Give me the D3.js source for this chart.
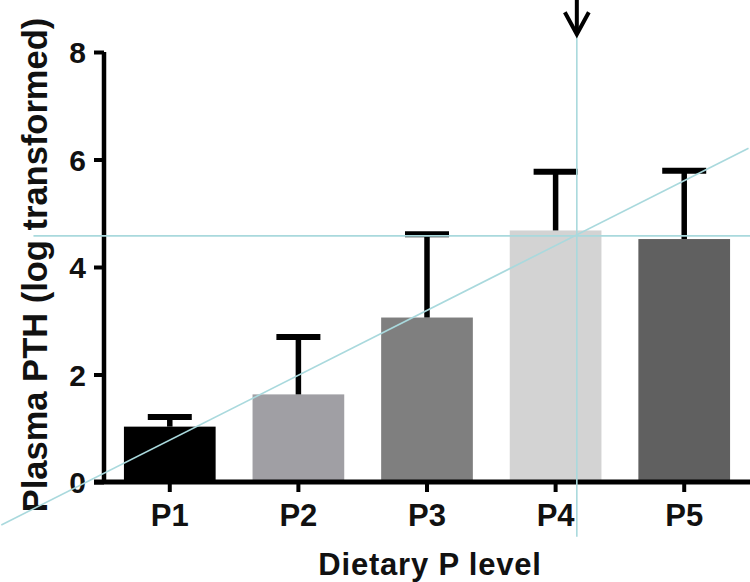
<!DOCTYPE html>
<html>
<head>
<meta charset="utf-8">
<script src="https://cdn.jsdelivr.net/npm/d3@7"></script>
<style>
  body { margin: 0; background: #fff; }
  text { font-family: "Liberation Sans", Arial, sans-serif; font-weight: bold; fill: #111; }
</style>
</head>
<body>
<div class="chart"></div>
<script>
// data
const levels = ["P1", "P2", "P3", "P4", "P5"];
const means  = [1.03, 1.63, 3.06, 4.68, 4.52];
const upper  = [1.21, 2.70, 4.61, 5.77, 5.79];
const barColors = ["#000000", "#a09fa4", "#7f7f7f", "#d3d3d3", "#606060"];
const yTicks = [0, 2, 4, 6, 8];

// overlay guides (x in category-index units, y in data units)
const guideX = 3.165;
const guideY = 4.58;
const diagonal = [[-1.31, -0.8], [4.5, 6.21]];
const arrowY = [9.0, 8.33];

const W = 750, H = 582;
const margin = { top: 52, right: 0, bottom: 100, left: 104 };

const svg = d3.select(".chart").append("svg")
    .attr("width", W)
    .attr("height", H);

const y = d3.scaleLinear()
    .domain([0, 8])
    .range([H - margin.bottom, margin.top]);

const x = d3.scaleBand()
    .domain(levels)
    .range([margin.left, W - margin.right])
    .paddingInner(0.287)
    .paddingOuter(0.155);

const cx = d => x(d) + x.bandwidth() / 2;
// continuous index scale for the guide lines
const xi = d3.scaleLinear().domain([0, levels.length - 1]).range([cx(levels[0]), cx(levels[levels.length - 1])]);

// bars
svg.append("g").selectAll("rect")
    .data(levels)
    .enter()
    .append("rect")
    .attr("x", d => x(d))
    .attr("y", (d, i) => y(means[i]))
    .attr("width", x.bandwidth())
    .attr("height", (d, i) => y(0) - y(means[i]))
    .attr("fill", (d, i) => barColors[i]);

// error bars (upper only)
const err = svg.append("g").attr("stroke", "#000");
err.selectAll("line.stem")
    .data(levels)
    .enter()
    .append("line")
    .attr("class", "stem")
    .attr("x1", d => cx(d)).attr("x2", d => cx(d))
    .attr("y1", (d, i) => y(means[i]))
    .attr("y2", (d, i) => y(upper[i]))
    .attr("stroke-width", 5.5);
err.selectAll("line.cap")
    .data(levels)
    .enter()
    .append("line")
    .attr("class", "cap")
    .attr("x1", d => cx(d) - 22).attr("x2", d => cx(d) + 22)
    .attr("y1", (d, i) => y(upper[i]))
    .attr("y2", (d, i) => y(upper[i]))
    .attr("stroke-width", 6);

// y axis
const yAxis = d3.axisLeft(y).tickValues(yTicks).tickSize(10).tickPadding(8).tickFormat(d3.format("d"));
const gy = svg.append("g")
    .attr("transform", `translate(${margin.left},0)`)
    .call(yAxis);
gy.select(".domain").attr("d", `M0,${y(8)}V${y(0)}`).attr("stroke", "#000").attr("stroke-width", 4.5);
gy.selectAll(".tick line").attr("stroke", "#000").attr("stroke-width", 4);
gy.selectAll(".tick text").attr("font-size", 30).attr("dy", "0.36em")
    .attr("font-family", "Liberation Sans, Arial, sans-serif").attr("font-weight", "bold").attr("fill", "#111");

// x axis
const xAxis = d3.axisBottom(x).tickSize(10).tickPadding(12);
const gx = svg.append("g")
    .attr("transform", `translate(0,${y(0)})`)
    .call(xAxis);
gx.select(".domain").attr("d", `M${margin.left - 10},0H${W}`).attr("stroke", "#000").attr("stroke-width", 5);
gx.selectAll(".tick line").attr("stroke", "#000").attr("stroke-width", 4);
gx.selectAll(".tick text").attr("font-size", 31).attr("dy", "0.72em")
    .attr("font-family", "Liberation Sans, Arial, sans-serif").attr("font-weight", "bold").attr("fill", "#111");

// axis titles
svg.append("text")
    .attr("x", (margin.left + W) / 2 + 3)
    .attr("y", 575)
    .attr("text-anchor", "middle")
    .attr("font-size", 31)
    .attr("letter-spacing", 0.8)
    .text("Dietary P level");

svg.append("text")
    .attr("transform", `translate(47,${265}) rotate(-90)`)
    .attr("text-anchor", "middle")
    .attr("font-size", 34.5)
    .text("Plasma PTH (log transformed)");

// teal guide lines on top
const guide = svg.append("g")
    .attr("stroke", "#a9d9dd")
    .attr("stroke-width", 1.6)
    .attr("fill", "none");
guide.append("line")
    .attr("x1", xi(-1.06)).attr("x2", xi(4.6))
    .attr("y1", y(guideY)).attr("y2", y(guideY));
guide.append("line")
    .attr("x1", xi(guideX)).attr("x2", xi(guideX))
    .attr("y1", y(arrowY[1])).attr("y2", y(-1.02));
guide.append("path")
    .attr("d", d3.line().x(d => xi(d[0])).y(d => y(d[1]))(diagonal));

// arrow marking P4
const ax = xi(guideX);
svg.append("line")
    .attr("x1", ax).attr("x2", ax)
    .attr("y1", y(arrowY[0])).attr("y2", y(arrowY[1]) - 2)
    .attr("stroke", "#000").attr("stroke-width", 4);
svg.append("path")
    .attr("d", `M${ax - 12},${y(arrowY[1]) - 22}L${ax},${y(arrowY[1])}L${ax + 12},${y(arrowY[1]) - 22}`)
    .attr("fill", "none")
    .attr("stroke", "#000")
    .attr("stroke-width", 4)
    .attr("stroke-linejoin", "miter");
</script>
</body>
</html>
